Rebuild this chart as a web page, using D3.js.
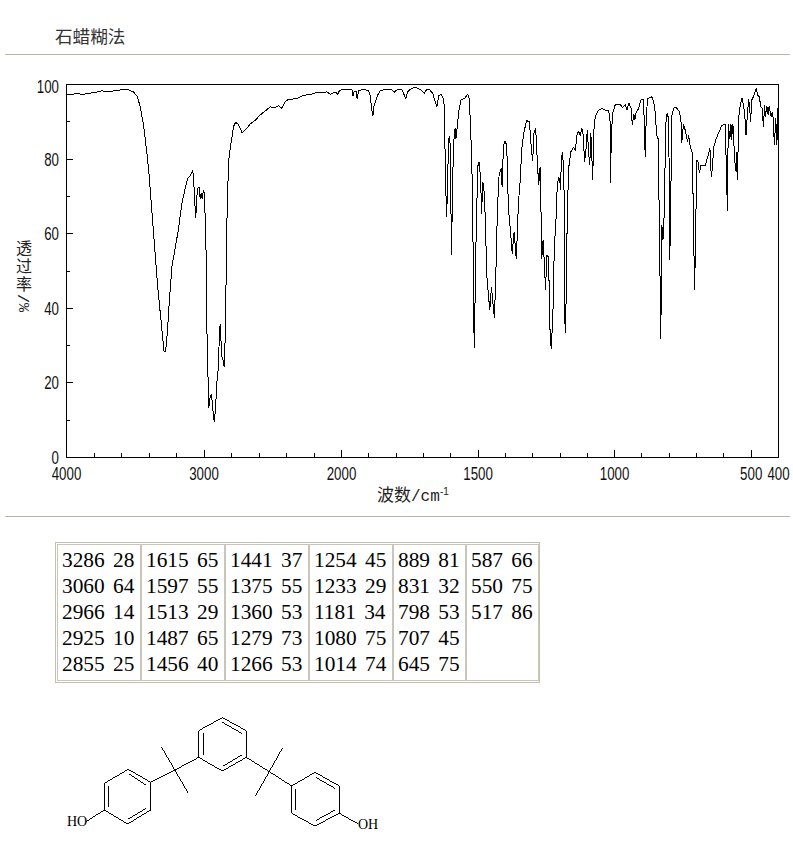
<!DOCTYPE html>
<html><head><meta charset="utf-8">
<script src="https://cdnjs.cloudflare.com/ajax/libs/d3/7.8.5/d3.min.js"></script>
<style>html,body{margin:0;padding:0;background:#fff}svg{display:block}</style></head>
<body><svg id="c" width="793" height="850"></svg>
<script>
const titleText = "石蜡糊法";
const xLabelCjk = "波数";
const yLabelCjk = "透过率";
const xMajor = [4000,3000,2000,1500,1000,500,400];
const xLabels = [4000,3000,2000,1500,1000,500,400];
const xMinor = [3800,3600,3400,3200,2800,2600,2400,2200,1900,1800,1700,1600,1400,1300,1200,1100,900,800,700,600];
const yMajor = [0,20,40,60,80,100];
const yMinor = [10,30,50,70,90];

const spectrumHigh = [[4000,97.3],[3925,97.5],[3876,97.4],[3804,97.8],[3743,98.3],[3695,98.0],[3634,98.5],[3549,98.6],[3513,98.0],[3484,96.7],[3464,94.0],[3440,89.1],[3416,81.9],[3399,75.7],[3379,65.9],[3360,56.9],[3338,46.2],[3319,39.1],[3302,32.8],[3290,28.3],[3280,28.3],[3266,33.7],[3251,42.6],[3232,51.6],[3210,56.0],[3185,61.4],[3161,68.1],[3137,72.1],[3118,74.8],[3101,75.5],[3081,76.9],[3072,72.1],[3067,68.5],[3060,64.1],[3052,69.9],[3045,72.1],[3035,72.6],[3028,69.4],[3021,70.8],[3013,69.4],[3004,71.7],[2994,70.3],[2992,63.2],[2984,54.2],[2979,34.7],[2970,20.3],[2965,13.4],[2955,16.3],[2946,16.9],[2936,13.1],[2926,9.6],[2916,13.1],[2907,19.8],[2895,24.3],[2887,34.6],[2880,35.7],[2873,27.4],[2861,26.1],[2853,24.3],[2846,31.9],[2839,48.0],[2832,65.9],[2824,75.7],[2817,81.1],[2798,85.5],[2786,88.7],[2771,89.8],[2754,89.5],[2737,88.2],[2723,87.1],[2689,88.2],[2664,89.4],[2628,90.4],[2592,91.8],[2555,92.9],[2519,94.0],[2483,93.8],[2458,94.3],[2434,93.6],[2410,95.4],[2386,96.0],[2325,96.2],[2277,97.1],[2228,97.3]];

const spectrumMid = [[2179,97.9],[2107,98.0],[2082,97.4],[2058,97.8],[2035,97.9],[2029,97.1],[2022,97.9],[2010,98.5],[1987,98.7],[1962,98.7],[1958,97.0],[1954,98.1],[1946,98.1],[1943,96.2],[1937,98.3],[1920,98.7],[1901,98.4],[1895,97.1],[1890,93.6],[1885,91.6],[1880,94.9],[1875,95.2],[1873,96.2],[1868,97.1],[1859,98.3],[1846,98.6],[1816,98.6],[1806,98.0],[1795,98.7],[1779,98.7],[1771,97.3],[1765,96.1],[1759,97.9],[1749,98.7],[1733,99.3],[1712,98.7],[1697,97.6],[1688,98.7],[1676,98.5],[1666,97.6],[1657,95.4],[1651,94.0],[1644,97.0],[1636,97.3],[1629,96.7],[1624,94.5],[1622,86.4],[1618,71.7],[1615,64.5],[1612,72.1],[1608,85.5],[1603,86.0],[1601,75.7],[1597,54.2],[1595,65.0],[1593,74.8],[1589,84.6],[1584,88.2],[1581,85.5],[1576,88.7],[1571,92.7],[1563,95.8],[1548,96.4],[1538,97.4],[1532,96.2],[1528,89.1],[1523,80.2],[1519,61.4],[1515,33.7],[1513,29.4],[1510,48.9],[1505,66.8],[1500,78.8],[1495,79.3],[1490,73.0],[1487,65.4],[1483,73.9],[1479,72.6],[1474,65.0],[1468,48.9],[1462,43.5],[1457,39.5],[1451,45.8],[1446,41.7],[1440,37.4],[1435,48.9],[1429,66.8],[1423,75.7],[1415,77.5],[1412,72.6],[1407,83.7],[1401,84.8],[1395,83.7],[1389,66.8],[1380,59.6],[1375,54.7],[1368,60.5],[1360,53.1],[1352,68.5],[1346,73.9],[1340,82.8],[1332,87.3],[1322,90.3],[1312,90.0],[1305,82.8],[1300,79.5],[1295,87.3],[1289,88.2],[1283,79.3],[1278,73.0],[1273,77.9],[1269,64.1],[1267,53.1],[1262,58.3],[1257,51.6],[1253,44.9],[1248,54.2],[1242,53.8],[1236,32.3]];

const spectrumLow = [[1232,29.2],[1226,38.2],[1221,56.0],[1215,63.2],[1211,71.2],[1206,75.2],[1201,74.8],[1198,71.7],[1195,80.2],[1190,82.0],[1185,71.2],[1183,37.2],[1179,33.4],[1177,48.9],[1172,69.4],[1167,78.3],[1160,82.0],[1150,83.3],[1144,82.2],[1138,86.4],[1132,87.5],[1126,86.2],[1120,88.4],[1115,86.4],[1110,79.1],[1105,82.4],[1100,87.8],[1095,81.5],[1091,78.4],[1087,86.9],[1080,74.5],[1077,86.9],[1071,91.3],[1059,93.1],[1046,93.6],[1034,93.1],[1022,92.9],[1017,91.3],[1015,73.5],[1012,87.3],[1006,92.6],[998,94.5],[979,94.6],[971,93.8],[961,94.6],[955,93.1],[948,95.1],[940,93.6],[935,89.1],[930,92.2],[926,90.4],[921,92.6],[912,93.6],[904,95.8],[894,96.1],[888,80.6],[884,91.8],[879,96.2],[863,96.7],[857,95.4],[851,92.2],[846,86.4],[841,85.5],[838,72.1],[834,49.8],[831,31.9],[827,62.3],[823,58.3],[818,65.9],[813,89.1],[808,92.2],[804,91.3],[800,77.5],[798,52.9],[795,66.8],[790,91.8],[784,93.7],[774,93.8],[762,92.7],[756,89.5],[754,84.4],[748,89.5],[740,87.3],[733,84.6],[729,86.4],[723,83.3],[715,81.5],[711,60.5],[707,44.9],[704,57.8],[699,79.7],[695,79.3],[690,76.4],[684,78.2],[668,78.2],[656,81.5],[651,83.0],[649,78.4],[645,75.1],[641,79.1],[637,83.3],[628,85.5],[620,86.9],[607,89.1],[595,89.3],[590,74.8],[587,66.1],[584,89.5],[578,85.5],[574,89.5],[572,85.1],[567,89.5],[560,79.3],[555,76.6],[553,82.0],[550,74.5],[546,90.9],[540,94.5],[533,96.4],[527,94.0],[523,91.3],[519,86.4],[514,91.8],[509,96.2],[505,93.1],[502,90.0],[498,95.8],[492,96.7],[482,98.9],[476,97.1],[470,96.7],[465,94.0],[460,93.6],[455,88.5],[451,94.5],[448,91.3],[443,94.3],[438,91.8],[434,94.3],[430,92.5],[427,91.3],[422,92.7],[419,90.4],[415,83.7],[410,90.9],[406,83.7],[402,93.6],[400,85.5]];

const peakCol1 = ["3286 28","3060 64","2966 14","2925 10","2855 25"];
const peakCol2 = ["1615 65","1597 55","1513 29","1487 65","1456 40"];
const peakCol3 = ["1441 37","1375 55","1360 53","1279 73","1266 53"];
const peakCol4 = ["1254 45","1233 29","1181 34","1080 75","1014 74"];
const peakCol5 = ["889 81","831 32","798 53","707 45","645 75"];
const peakCol6 = ["587 66","550 75","517 86"];
const peakColumns = [peakCol1,peakCol2,peakCol3,peakCol4,peakCol5,peakCol6];

const ringBonds = [
 [517,53,589,92],[589,92,589,172],[589,172,517,213],[517,213,446,172],[446,172,446,92],[446,92,517,53],
 [460,100,460,165],[517,67,575,100],[520,198,575,165],
 [235,208,302,247],[302,247,302,330],[302,330,233,372],[233,372,163,330],[163,330,163,250],[163,250,235,208],
 [177,258,177,322],[237,222,288,255],[235,357,288,325],
 [795,217,868,258],[868,258,868,340],[868,340,795,378],[795,378,725,340],[725,340,725,258],[725,258,795,217],
 [738,268,738,330],[797,232,855,265],[797,362,855,330],
 [446,172,375,210],[375,210,302,247],[335,142,415,280],
 [589,172,658,215],[658,215,725,258],[697,145,617,287],
 [163,330,108,365],[868,340,925,372]
];

const svg = d3.select("#c");
const cjk = "'Noto Sans CJK SC',sans-serif";
const narrow = "'Liberation Sans',sans-serif";

// title + rules
svg.append("text").attr("x",55).attr("y",43).attr("font-family",cjk).attr("font-size",17.6).attr("fill","#333").text(titleText);
svg.selectAll("line.rule").data([54,516]).join("line").attr("class","rule")
  .attr("x1",5).attr("x2",790).attr("y1",d=>d+.5).attr("y2",d=>d+.5).attr("stroke","#b9b6a4").attr("stroke-width",1);

// chart
const x = d3.scaleLinear().domain([4000,2000,400]).range([66,341,778]);
const y = d3.scaleLinear().domain([0,100]).range([457,84]);

const plot = svg.append("g").attr("shape-rendering","crispEdges");
const styleAxis = g => { g.select(".domain").remove(); g.selectAll("line").attr("stroke","#000"); };
const bottomMajor = d3.axisBottom(x).tickValues(xMajor).tickSizeInner(-7).tickSizeOuter(0).tickFormat("");
const bottomMinor = d3.axisBottom(x).tickValues(xMinor).tickSizeInner(-4).tickSizeOuter(0).tickFormat("");
const leftMajor = d3.axisLeft(y).tickValues(yMajor).tickSizeInner(-7).tickSizeOuter(0).tickFormat("");
const leftMinor = d3.axisLeft(y).tickValues(yMinor).tickSizeInner(-4).tickSizeOuter(0).tickFormat("");
plot.append("g").attr("transform","translate(0,457)").call(bottomMajor).call(styleAxis);
plot.append("g").attr("transform","translate(0,457)").call(bottomMinor).call(styleAxis);
plot.append("g").attr("transform","translate(66,0)").call(leftMajor).call(styleAxis);
plot.append("g").attr("transform","translate(66,0)").call(leftMinor).call(styleAxis);
plot.append("rect").attr("x",x(4000)+.5).attr("y",y(100)+.5).attr("width",x(400)-x(4000)).attr("height",y(0)-y(100))
  .attr("fill","none").attr("stroke","#000");

const line = d3.line().x(d=>x(d[0])+.5).y(d=>y(d[1])+.5);
svg.append("path").datum([...spectrumHigh,...spectrumMid,...spectrumLow]).attr("d",line)
  .attr("fill","none").attr("stroke","#000").attr("stroke-width",1).attr("stroke-linejoin","miter").attr("stroke-miterlimit",2)
  .attr("shape-rendering","crispEdges");

// tick labels (condensed digits like the reference)
const digitWidth = 7.4;
svg.selectAll("text.xl").data(xLabels).join("text").attr("class","xl")
  .attr("x",d=>x(d)+.5).attr("y",480).attr("text-anchor","middle")
  .attr("font-family",narrow).attr("font-size",17.5).attr("fill","#111")
  .attr("textLength",d=>String(d).length*digitWidth).attr("lengthAdjust","spacingAndGlyphs").text(d=>d);
svg.selectAll("text.yl").data(yMajor).join("text").attr("class","yl")
  .attr("x",59).attr("y",d=>y(d)+(d===100?9:7)).attr("text-anchor","end")
  .attr("font-family",narrow).attr("font-size",17.5).attr("fill","#111")
  .attr("textLength",d=>String(d).length*digitWidth).attr("lengthAdjust","spacingAndGlyphs").text(d=>d);

// axis titles
svg.append("text").attr("x",377).attr("y",501).attr("font-family",cjk).attr("font-size",17).attr("fill","#222").text(xLabelCjk);
svg.append("text").attr("x",411).attr("y",501).attr("font-family","'Liberation Mono',monospace").attr("font-size",16).attr("fill","#222").text("/cm");
svg.append("text").attr("x",440).attr("y",495).attr("font-family","'Liberation Sans',sans-serif").attr("font-size",10).attr("fill","#222").text("-1");
svg.append("text").attr("x",24).attr("y",240)
  .style("writing-mode","vertical-rl").style("letter-spacing","2px").attr("text-anchor","start")
  .attr("font-family",cjk).attr("font-size",16).attr("fill","#222").text(yLabelCjk);
svg.append("text").attr("transform","translate(29,312) rotate(-90)")
  .attr("font-family","'Liberation Mono',monospace").attr("font-size",15).attr("fill","#222").text("%/");

// peak table
const colLeft = [57,141,225,309,393,466];
const colRight = [140,224,308,392,465,538];
const tbl = svg.append("g").attr("shape-rendering","crispEdges");
tbl.append("rect").attr("x",55.5).attr("y",542.5).attr("width",484).attr("height",140).attr("fill","none").attr("stroke","#c2bfae");
tbl.selectAll("rect.cell").data(peakColumns).join("rect").attr("class","cell")
  .attr("x",(d,i)=>colLeft[i]+.5).attr("y",544.5).attr("width",(d,i)=>colRight[i]-colLeft[i]).attr("height",136)
  .attr("fill","none").attr("stroke","#c8c6b8");
peakColumns.forEach((col,i)=>{
  svg.selectAll("text.p"+i).data(col).join("text").attr("class","p"+i)
    .attr("x",colLeft[i]+5).attr("y",(d,j)=>567+j*26)
    .attr("font-family","'Liberation Serif',serif").attr("font-size",21.33).attr("fill","#000")
    .style("word-spacing","3px").text(d=>d);
});

// structure
const mol = svg.append("g").attr("transform","translate(50,700) scale(0.33333)").attr("shape-rendering","crispEdges");
mol.selectAll("line").data(ringBonds).join("line")
  .attr("x1",d=>d[0]).attr("y1",d=>d[1]).attr("x2",d=>d[2]).attr("y2",d=>d[3])
  .attr("stroke","#000").attr("stroke-width",3);
svg.append("text").attr("x",67).attr("y",826).attr("font-family","'Liberation Serif',serif").attr("font-size",14).attr("fill","#000").text("HO");
svg.append("text").attr("x",358).attr("y",829).attr("font-family","'Liberation Serif',serif").attr("font-size",14).attr("fill","#000").text("OH");
</script></body></html>
